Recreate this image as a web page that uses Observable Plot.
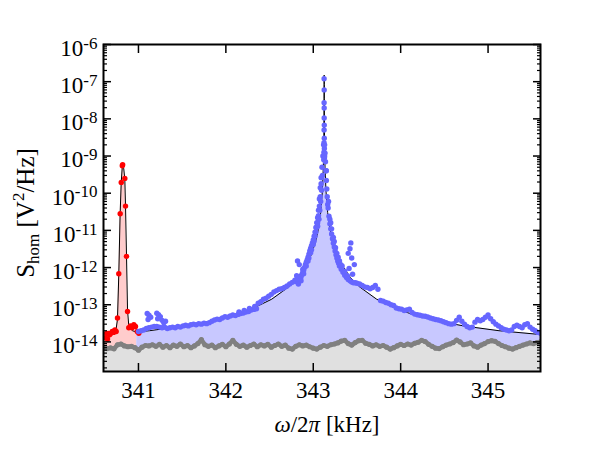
<!DOCTYPE html>
<html><head><meta charset="utf-8">
<script src="https://cdn.jsdelivr.net/npm/d3@7"></script>
<script src="https://cdn.jsdelivr.net/npm/@observablehq/plot@0.6"></script>
<style>body{margin:0;background:#fff}#chart{width:600px;height:450px}
svg text{font-family:'Liberation Serif','DejaVu Serif',serif !important;}</style>
</head><body><div id="chart"></div>
<script>
// ---- scales / ticks ----
const xDomain = [340.6, 345.6];
const yDomain = [1.6e-15, 1e-6];
const xTicks = [341, 342, 343, 344, 345];
const yTicks = [1e-14, 1e-13, 1e-12, 1e-11, 1e-10, 1e-9, 1e-8, 1e-7, 1e-6];
const minorMultipliers = [2, 3, 4, 5, 6, 7, 8, 9];

// ---- noise floor (grey) ----
const noise = [
[340.60,7.0e-15],[340.64,6.6e-15],[340.68,6.9e-15],[340.72,6.5e-15],[340.76,8.4e-15],[340.80,8.8e-15],
[340.84,7.8e-15],[340.88,7.4e-15],[340.92,7.6e-15],[340.96,7.0e-15],[341.00,6.0e-15],[341.04,7.2e-15],
[341.08,8.0e-15],[341.12,7.8e-15],[341.16,8.4e-15],[341.20,7.6e-15],[341.24,8.6e-15],[341.28,7.2e-15],
[341.32,8.0e-15],[341.36,7.0e-15],[341.40,8.2e-15],[341.44,7.6e-15],[341.48,8.8e-15],[341.52,7.4e-15],
[341.56,8.0e-15],[341.60,7.0e-15],[341.64,7.8e-15],[341.68,9.0e-15],[341.72,1.15e-14],[341.76,8.4e-15],
[341.80,7.6e-15],[341.84,8.2e-15],[341.88,7.0e-15],[341.92,7.8e-15],[341.96,8.6e-15],[342.00,7.4e-15],
[342.04,8.8e-15],[342.08,1.1e-14],[342.12,8.6e-15],[342.16,7.6e-15],[342.20,8.2e-15],[342.24,7.2e-15],
[342.28,8.0e-15],[342.32,8.8e-15],[342.36,7.4e-15],[342.40,8.4e-15],[342.44,7.8e-15],[342.48,8.6e-15],
[342.52,7.2e-15],[342.56,8.0e-15],[342.60,8.8e-15],[342.64,7.6e-15],[342.68,8.2e-15],[342.72,6.8e-15],
[342.76,6.4e-15],[342.80,7.6e-15],[342.84,8.4e-15],[342.88,7.8e-15],[342.92,8.2e-15],[342.96,7.4e-15],
[343.00,6.8e-15],[343.04,6.4e-15],[343.08,7.2e-15],[343.12,8.0e-15],[343.16,7.6e-15],[343.20,8.4e-15],
[343.24,8.8e-15],[343.28,9.4e-15],[343.32,1.05e-14],[343.36,1.1e-14],[343.40,9.0e-15],[343.44,8.2e-15],
[343.48,9.6e-15],[343.52,1.08e-14],[343.56,1.1e-14],[343.60,9.2e-15],[343.64,8.6e-15],[343.68,7.8e-15],
[343.72,8.4e-15],[343.76,7.6e-15],[343.80,8.0e-15],[343.84,7.2e-15],[343.88,6.4e-15],[343.92,7.0e-15],
[343.96,7.8e-15],[344.00,8.6e-15],[344.04,8.0e-15],[344.08,8.8e-15],[344.12,8.2e-15],[344.16,9.2e-15],
[344.20,9.8e-15],[344.24,1.1e-14],[344.28,1.02e-14],[344.32,8.6e-15],[344.36,7.6e-15],[344.40,6.8e-15],
[344.44,6.6e-15],[344.48,7.4e-15],[344.52,8.2e-15],[344.56,8.8e-15],[344.60,9.6e-15],[344.64,1.12e-14],
[344.68,1.0e-14],[344.72,8.4e-15],[344.76,8.8e-15],[344.80,9.4e-15],[344.84,7.8e-15],[344.88,7.2e-15],
[344.92,8.2e-15],[344.96,9.0e-15],[345.00,1.02e-14],[345.04,1.08e-14],[345.08,1.04e-14],[345.12,9.0e-15],
[345.16,8.0e-15],[345.20,7.4e-15],[345.24,6.8e-15],[345.28,6.4e-15],[345.32,7.0e-15],[345.36,7.6e-15],
[345.40,8.2e-15],[345.44,8.8e-15],[345.48,9.4e-15],[345.52,9.0e-15],[345.56,9.6e-15],[345.60,1.0e-14]
];

// ---- red (small) peak: measured points and fit ----
const redPoints = [
[340.620,1.3e-14],[340.635,1.7e-14],[340.646,1.2e-14],[340.655,1.7e-14],[340.670,1.55e-14],[340.685,1.7e-14],
[340.700,1.9e-14],[340.715,1.8e-14],[340.730,2.1e-14],[340.745,1.9e-14],[340.760,4.4e-14],[340.775,6.8e-13],
[340.791,2.8e-11],[340.803,1.95e-10],[340.815,5.5e-10],[340.819,5.8e-10],[340.844,2.5e-10],[340.852,4.5e-11],
[340.863,2.0e-12],[340.875,6.6e-14],[340.889,2.4e-14],[340.909,2.7e-14],[340.928,2.4e-14],[340.947,2.9e-14],
[340.966,2.6e-14],[340.986,1.9e-14],[341.004,1.7e-14]
];
const redFit = [
[340.60,1.8e-14],[340.74,1.9e-14],[340.76,4.0e-14],[340.775,6.5e-13],[340.79,2.6e-11],[340.803,2.0e-10],
[340.818,6.5e-10],[340.832,4.5e-10],[340.844,2.4e-10],[340.852,4.5e-11],[340.863,2.2e-12],[340.875,7.0e-14],
[340.89,2.6e-14],[340.93,2.0e-14],[340.98,1.85e-14]
];

// ---- blue (main) peak: fit ----
const blueFit = [
[340.98,1.85e-14],[341.125,2.0e-14],[341.525,2.68e-14],[341.825,3.64e-14],[342.125,5.6e-14],[342.325,8.3e-14],
[342.525,1.41e-13],[342.725,3.08e-13],[342.825,5.4e-13],[342.925,1.21e-12],[342.975,2.14e-12],[343.025,4.8e-12],
[343.055,9.8e-12],[343.085,3.0e-11],[343.105,1.2e-10],[343.115,4.8e-10],[343.118,9.7e-10],[343.121,2.9e-9],
[343.123,1.1e-8],[343.124,3.6e-8],[343.1245,8.4e-8],[343.125,1.5e-7],[343.1255,8.4e-8],[343.126,3.6e-8],
[343.127,1.1e-8],[343.129,2.9e-9],[343.132,9.7e-10],[343.135,4.8e-10],[343.145,1.2e-10],[343.165,3.0e-11],
[343.195,9.8e-12],[343.225,4.8e-12],[343.275,2.14e-12],[343.325,1.21e-12],[343.425,5.4e-13],[343.525,3.08e-13],
[343.725,1.41e-13],[343.925,8.3e-14],[344.125,5.6e-14],[344.425,3.64e-14],[344.725,2.68e-14],[345.125,2.0e-14],
[345.6,1.58e-14]
];

// ---- blue measured points ----
const blueLeftTail = [
[341.00,1.9e-14],[341.03,2.0e-14],[341.06,2.1e-14],[341.09,2.3e-14],[341.12,2.4e-14],[341.15,2.5e-14],
[341.18,2.6e-14],[341.21,2.6e-14],[341.24,2.5e-14],[341.27,2.4e-14],[341.30,2.5e-14],[341.33,2.3e-14],
[341.36,2.4e-14],[341.39,2.5e-14],[341.42,2.4e-14],[341.45,2.6e-14],[341.48,2.5e-14],[341.51,2.7e-14],
[341.54,2.8e-14],[341.57,2.7e-14],[341.60,2.9e-14],[341.63,3.0e-14],[341.66,2.9e-14],[341.69,3.1e-14],
[341.72,3.0e-14],[341.75,3.2e-14],[341.78,3.1e-14],[341.81,3.3e-14],[341.84,3.6e-14],[341.87,3.9e-14],
[341.90,4.1e-14],[341.93,4.0e-14],[341.96,4.4e-14],[341.99,4.8e-14],[342.02,4.6e-14],[342.05,5.0e-14],
[342.08,5.3e-14],[342.11,5.1e-14],[342.14,5.5e-14],[342.17,5.8e-14],[342.20,6.0e-14],[342.23,6.4e-14],
[342.26,6.6e-14],[342.29,7.2e-14],[342.32,7.5e-14],[342.35,7.8e-14],[342.37,1.1e-13],[342.40,1.2e-13],
[342.43,1.4e-13],[342.46,1.5e-13],[342.49,1.7e-13],[342.52,1.9e-13],[342.55,2.2e-13],[342.58,2.4e-13],
[342.61,2.6e-13],[342.64,2.7e-13],[342.67,2.9e-13],[342.70,3.2e-13],[342.73,3.6e-13],[342.76,4.0e-13],
[342.79,4.6e-13],
[342.15,6.4e-14],[342.21,7.0e-14],[342.27,8.0e-14],[342.33,9.0e-14]
];
const blueOutliers = [
[341.10,5.8e-14],[341.12,5.2e-14],[341.14,4.6e-14],[341.11,4.0e-14],[341.21,5.9e-14],[341.23,5.4e-14],
[341.25,4.8e-14],[341.22,4.2e-14],[341.27,3.8e-14],[341.29,3.3e-14],[341.31,3.6e-14],
[342.82,1.5e-12],[342.84,1.2e-12],[342.88,9.0e-13],[342.81,6.0e-13],
[343.43,4.6e-12],[343.42,3.2e-12],[343.44,1.8e-12],[343.41,9.5e-13],[343.45,6.6e-13],[343.40,2.4e-12],
[343.47,1.2e-12]
];
const blueLeftFlank = [
[342.80,4.2e-13],[342.82,4.6e-13],[342.84,5.0e-13],[342.86,5.6e-13],[342.87,6.5e-13],[342.88,7.5e-13],
[342.89,8.5e-13],[342.90,1.0e-12],[342.91,1.2e-12],[342.92,1.4e-12],[342.93,1.6e-12],[342.94,1.9e-12],
[342.95,2.3e-12],[342.96,2.8e-12],[342.97,3.3e-12],[342.98,3.9e-12],[342.99,4.6e-12],[343.00,5.5e-12],
[343.01,7.0e-12],[343.02,9.0e-12],[343.03,1.2e-11],[343.04,1.6e-11],[343.05,2.2e-11],[343.06,3.5e-11],
[343.07,7.0e-11],[343.08,1.4e-10],[343.09,2.6e-10],[343.10,5.0e-10],[343.11,1.0e-9],[343.118,2.0e-9],
[342.86,4.4e-13],[342.92,1.1e-12],[342.95,1.8e-12],[342.98,3.0e-12],[343.00,4.2e-12],[343.02,7.0e-12],
[343.04,1.2e-11],[343.05,1.6e-11],[343.06,2.5e-11],[343.07,4.5e-11],[343.08,8.0e-11],[343.09,1.8e-10],
[342.83,3.6e-13],[342.89,6.8e-13],[342.94,1.5e-12],[342.97,2.5e-12],[343.01,5.2e-12],[343.03,9.0e-12],
[343.05,1.3e-11],[343.065,2.0e-11],[343.075,3.5e-11],[343.085,6.0e-11],[343.095,1.2e-10],[343.105,3.0e-10]
];
const bluePeakTop = [
[343.124,1.2e-7],[343.125,6.0e-8],[343.124,2.7e-8],[343.125,1.95e-8],[343.125,1.05e-8],[343.126,6.8e-9],
[343.124,5.0e-9],[343.126,3.0e-9],[343.123,2.3e-9],[343.127,1.6e-9],[343.122,1.26e-9],[343.128,9.0e-10],
[343.120,8.0e-10],[343.130,1.0e-9]
];
const blueRightFlank = [
[343.130,2.0e-9],[343.135,1.2e-9],[343.140,7.0e-10],[343.145,4.0e-10],[343.150,2.2e-10],[343.155,1.3e-10],
[343.160,8.0e-11],[343.170,4.0e-11],[343.180,2.4e-11],[343.190,1.5e-11],[343.200,1.1e-11],[343.210,8.0e-12],
[343.220,6.0e-12],[343.230,4.5e-12],[343.240,3.6e-12],[343.250,2.8e-12],[343.260,2.2e-12],[343.270,1.8e-12],
[343.280,1.5e-12],[343.290,1.3e-12],[343.300,1.1e-12],[343.320,9.0e-13],[343.340,7.5e-13],[343.360,6.2e-13],
[343.380,5.4e-13],[343.400,4.8e-13],[343.420,4.4e-13],[343.440,4.1e-13],[343.460,3.9e-13],[343.480,3.9e-13],
[343.150,4.0e-10],[343.165,5.0e-11],[343.190,2.0e-11],[343.210,1.1e-11],[343.240,5.0e-12],[343.270,2.4e-12],
[343.300,1.5e-12],[343.330,1.1e-12],[343.360,8.0e-13],[343.390,6.0e-13],
[343.175,6.0e-11],[343.200,1.6e-11],[343.230,6.5e-12],[343.255,3.4e-12],[343.285,1.9e-12],[343.315,1.2e-12]
];
const blueRightTail = [
[343.50,3.8e-13],[343.53,3.6e-13],[343.56,3.3e-13],[343.59,3.0e-13],[343.62,2.9e-13],[343.65,2.7e-13],
[343.68,2.9e-13],[343.71,3.3e-13],[343.74,2.6e-13],[343.77,1.3e-13],[343.80,1.25e-13],[343.83,1.15e-13],
[343.86,1.1e-13],[343.89,1.0e-13],[343.92,9.5e-14],[343.95,8.2e-14],[343.98,7.8e-14],[344.01,7.6e-14],
[344.04,7.0e-14],[344.07,7.2e-14],[344.10,7.6e-14],[344.13,6.2e-14],[344.16,5.6e-14],[344.19,5.4e-14],
[344.22,5.2e-14],[344.25,5.0e-14],[344.28,4.9e-14],[344.31,4.7e-14],[344.34,4.4e-14],[344.37,4.2e-14],
[344.40,4.0e-14],[344.43,3.9e-14],[344.46,3.7e-14],[344.49,3.5e-14],[344.52,3.3e-14],[344.55,3.1e-14],
[344.58,3.0e-14],[344.61,3.1e-14],[344.64,3.8e-14],[344.67,4.6e-14],[344.70,3.6e-14],[344.73,3.0e-14],
[344.76,2.6e-14],[344.79,2.4e-14],[344.82,2.5e-14],[344.85,3.4e-14],[344.88,4.0e-14],[344.91,3.7e-14],
[344.94,4.0e-14],[344.97,4.6e-14],[345.00,5.3e-14],[345.03,4.2e-14],[345.06,3.5e-14],[345.09,3.0e-14],
[345.12,2.7e-14],[345.15,2.4e-14],[345.18,2.2e-14],[345.21,2.1e-14],[345.24,2.0e-14],[345.27,2.1e-14],
[345.30,2.6e-14],[345.33,2.8e-14],[345.36,2.6e-14],[345.39,2.4e-14],[345.42,2.9e-14],[345.45,3.1e-14],
[345.48,2.5e-14],[345.51,2.2e-14],[345.54,2.0e-14],[345.57,1.8e-14],[345.60,1.7e-14]
];

// ---- assemble ----
const bluePoints = [].concat(blueLeftTail, blueOutliers, blueLeftFlank, bluePeakTop, blueRightFlank, blueRightTail);
const fitLine = redFit.concat(blueFit.slice(1));
const yMinor = [];
for (const t of yTicks) for (const m of minorMultipliers) { const v = t * m / 10; if (v >= yDomain[0]) yMinor.push(v); }

const X = d => d[0], Y = d => d[1];
const base = yDomain[0];
const font = "'Liberation Serif', 'DejaVu Serif', serif";

const plot = Plot.plot({
  width: 600, height: 450,
  marginLeft: 103, marginRight: 60, marginTop: 44, marginBottom: 79,
  style: {background: "white", color: "black"},
  x: {domain: xDomain},
  y: {type: "log", domain: yDomain},
  marks: [
    Plot.areaY(redFit, {x: X, y1: base, y2: Y, fill: "#ffcccc", clip: true}),
    Plot.areaY(blueFit, {x: X, y1: base, y2: Y, fill: "#c8c8ff", clip: true}),
    Plot.areaY(noise, {x: X, y1: base, y2: Y, fill: "#e0e0e0", clip: true}),
    Plot.line(fitLine, {x: X, y: Y, stroke: "black", strokeWidth: 1, clip: true}),
    Plot.line(noise, {x: X, y: Y, stroke: "#808080", strokeWidth: 4.5, clip: true}),
    Plot.dot(noise, {x: X, y: Y, r: 2.6, fill: "#808080", clip: true}),
    Plot.dot(redPoints, {x: X, y: Y, r: 2.7, fill: "#ff0000", clip: true}),
    Plot.dot(bluePoints, {x: X, y: Y, r: 2.7, fill: "#6666ff", clip: true}),
    // inward ticks
    Plot.axisX(xTicks, {anchor: "bottom", tickSize: 8, dy: -8, fill: "none", label: null, strokeWidth: 1.5}),
    Plot.axisX(xTicks, {anchor: "top", tickSize: 8, dy: 8, fill: "none", label: null, strokeWidth: 1.5}),
    Plot.axisY(yTicks, {anchor: "left", tickSize: 8, dx: 8, fill: "none", label: null, strokeWidth: 1.5}),
    Plot.axisY(yTicks, {anchor: "right", tickSize: 8, dx: -8, fill: "none", label: null, strokeWidth: 1.5}),
    Plot.axisY(yMinor, {anchor: "left", tickSize: 4, dx: 4, fill: "none", label: null, strokeWidth: 1.2}),
    Plot.axisY(yMinor, {anchor: "right", tickSize: 4, dx: -4, fill: "none", label: null, strokeWidth: 1.2}),
    // tick labels
    Plot.axisX(xTicks, {anchor: "bottom", tickSize: 0, tickPadding: 10, label: null, fontSize: 23, tickFormat: d => String(d)}),
    Plot.axisY(yTicks, {anchor: "left", tickSize: 0, tickPadding: 6, dy: 4, label: null, fontSize: 23,
      tickFormat: d => "10^" + Math.round(Math.log10(d))}),
    Plot.frame({stroke: "black", strokeWidth: 2})
  ]
});

const svg = d3.select(plot);
svg.attr("font-family", font);
svg.selectAll('g[aria-label$="tick label"]').attr("font-size", 23).style("font-size", "23px").style("font-family", font);
svg.selectAll('g[aria-label="y-axis tick label"] text').each(function () {
  const t = this.textContent;
  const parts = t.split("^");
  if (parts.length !== 2) return;
  const s = d3.select(this);
  s.text(parts[0]);
  s.append("tspan").attr("dy", "-0.42em").style("font-size", "17px").text(parts[1]);
});

// axis titles
const xt = svg.append("text").attr("x", 327).attr("y", 432).attr("text-anchor", "middle")
  .style("font-family", font).style("font-size", "23px").attr("fill", "black");
xt.append("tspan").attr("font-style", "italic").text("ω");
xt.append("tspan").text("/2");
xt.append("tspan").attr("font-style", "italic").text("π");
xt.append("tspan").text(" [kHz]");

const yt = svg.append("text").attr("transform", "translate(34,213) rotate(-90)").attr("text-anchor", "middle")
  .style("font-family", font).style("font-size", "25px").attr("fill", "black");
yt.append("tspan").text("S");
yt.append("tspan").style("font-size", "17px").attr("dy", 5).text("hom");
yt.append("tspan").attr("dy", -5).text(" [V");
yt.append("tspan").style("font-size", "17px").attr("dy", -10).text("2");
yt.append("tspan").attr("dy", 10).text("/Hz]");

document.getElementById("chart").appendChild(plot);
</script>
</body></html>
